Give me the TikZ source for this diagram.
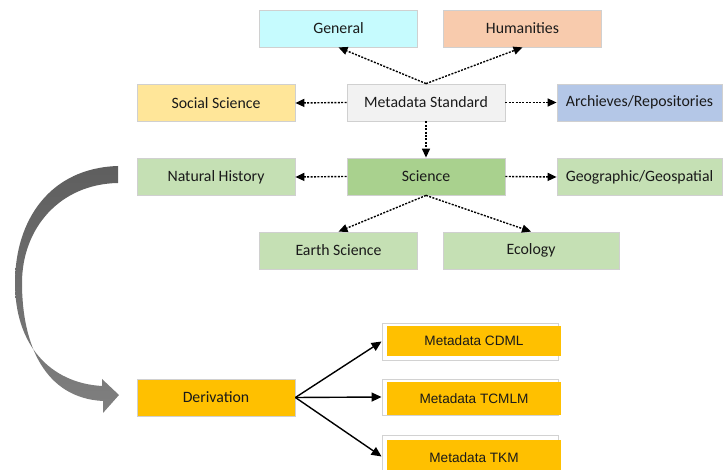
\documentclass[tikz,border=0pt]{standalone}
\usepackage{fontspec}
\setmainfont{Carlito}
\newfontfamily\arialf{Liberation Sans}
\usetikzlibrary{arrows.meta}
\definecolor{cGen}{HTML}{C6FBFE}
\definecolor{cHum}{HTML}{F8CBAD}
\definecolor{cSoc}{HTML}{FFE699}
\definecolor{cMS}{HTML}{F2F2F2}
\definecolor{cArc}{HTML}{B4C7E7}
\definecolor{cGrn}{HTML}{C5E0B4}
\definecolor{cSci}{HTML}{A9D18E}
\definecolor{cOra}{HTML}{FFC000}
\definecolor{boxline}{HTML}{D0D0D0}
\definecolor{txt}{HTML}{1A1A1A}
\tikzset{
  box/.style={draw=boxline, line width=0.8pt, minimum height=37pt, minimum width=158pt,
    inner sep=0pt, font=\fontsize{15.8}{18}\selectfont, text=txt},
  frame/.style={draw=gray!35, fill=white, line width=0.9pt, minimum width=176pt, inner sep=0pt},
  obox/.style={fill=cOra, minimum width=174pt, inner sep=0pt,
    font=\arialf\fontsize{13.6}{16}\selectfont, text=txt},
  dotarrow/.style={-{Triangle[length=9pt,width=8pt]}, line width=1.4pt, dash pattern=on 2pt off 1.4pt},
  solidarrow/.style={-{Triangle[length=10pt,width=9pt]}, line width=1.4pt},
}
\begin{document}
\begin{tikzpicture}[x=1pt,y=-1pt]
\useasboundingbox (0,0) rectangle (724,470);

% curved grey arrow
\shade[top color=black!63, middle color=black!12, bottom color=black!50]
  (118,166) .. controls (50,168) and (15,220) .. (15,283)
  .. controls (15,345) and (50,383) .. (102,386)
  -- (102,379) -- (119,395) -- (103,413) -- (103,401)
  .. controls (45,398) and (22,345) .. (22,283)
  .. controls (22,228) and (60,184) .. (118,183) -- cycle;

% nodes
\node[box, fill=cGen] (gen) at (338.5,28.5) {General};
\node[box, fill=cHum] (hum) at (522.5,28.5) {Humanities};
\node[box, fill=cSoc] (soc) at (216,103) {Social Science};
\node[box, fill=cMS] (ms) at (426,102.5) {Metadata Standard};
\node[box, fill=cArc, minimum width=165pt] (arc) at (639.5,102.5) {Archieves/Repositories};
\node[box, fill=cGrn] (nh) at (216,177) {Natural History};
\node[box, fill=cSci] (sci) at (426,176.5) {Science};
\node[box, fill=cGrn, minimum width=165pt] (geo) at (639.5,177) {Geographic/Geospatial};
\node[box, fill=cGrn] (es) at (338.5,250.5) {Earth Science};
\node[box, fill=cGrn, minimum width=176pt] (eco) at (531,250.5) {Ecology};
\node[box, fill=cOra] (der) at (216,397.5) {Derivation};

\node[frame, minimum height=37pt] (f1) at (470,341.5) {};
\node[obox, minimum height=30pt] (m1) at (474,341) {Metadata CDML};
\node[frame, minimum height=36pt] (f2) at (470,397) {};
\node[obox, minimum height=33pt] (m2) at (474,398.5) {Metadata TCMLM};
\node[frame, minimum height=37pt] (f3) at (470,453.5) {};
\node[obox, minimum height=35pt] (m3) at (474,457.5) {Metadata TKM};

% dotted connectors
\draw[dotarrow] (ms.north) -- (gen.south);
\draw[dotarrow] (ms.north) -- (hum.south);
\draw[dotarrow] (ms.west) -- (soc.east);
\draw[dotarrow] (ms.east) -- (arc.west);
\draw[dotarrow] (ms.south) -- (sci.north);
\draw[dotarrow] (sci.west) -- (nh.east);
\draw[dotarrow] (sci.east) -- (geo.west);
\draw[dotarrow] (sci.south) -- (es.north);
\draw[dotarrow] (sci.south) -- (eco.north);

% solid connectors
\draw[solidarrow] (der.east) -- (f1.west);
\draw[solidarrow] (der.east) -- (f2.west);
\draw[solidarrow] (der.east) -- ([yshift=-3pt]f3.west);
\end{tikzpicture}
\end{document}
